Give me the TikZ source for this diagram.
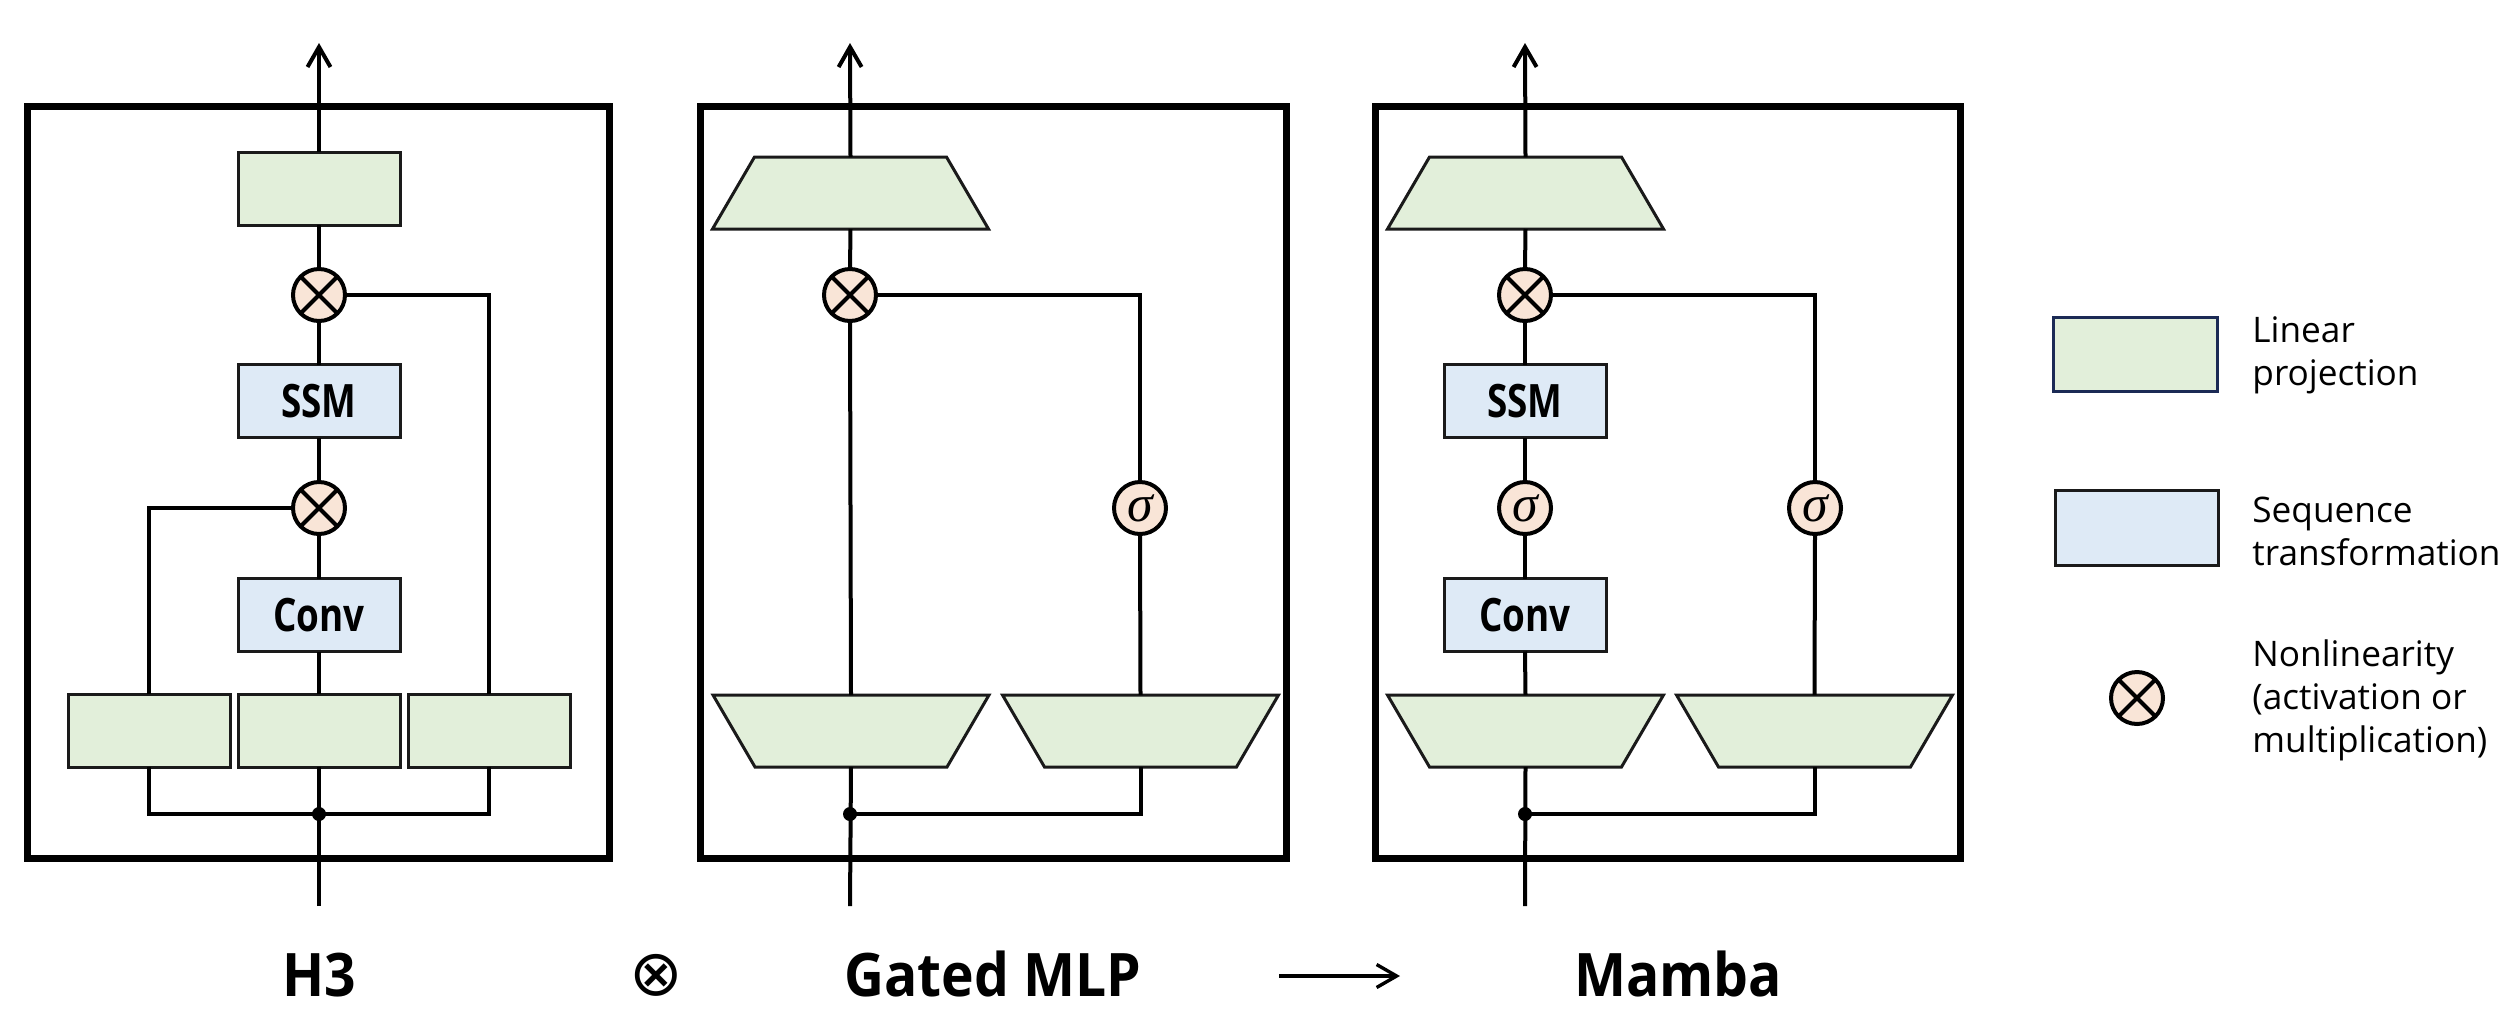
\documentclass[tikz,border=0pt]{standalone}
\usepackage{fontspec}
\setmainfont{Open Sans}
\newfontfamily\condfont{Open Sans}[FakeStretch=0.8]
\newfontfamily\titlefont{Open Sans}[FakeStretch=0.92]
\newfontfamily\symfont{DejaVu Sans}
\newfontfamily\sigfont{Liberation Serif}
\usetikzlibrary{arrows.meta}
\definecolor{lingreen}{HTML}{E2EFDA}
\definecolor{seqblue}{HTML}{DEEAF6}
\definecolor{nlpeach}{HTML}{F9E5D7}
\definecolor{navy}{HTML}{1B2A55}
\definecolor{boxline}{HTML}{1A1A1A}
\tikzset{
 frame/.style={line width=3.5pt},
 conn/.style={line width=2pt},
 outarrow/.style={line width=2pt, -{Straight Barb[length=10pt,width=11.5pt,line width=2pt]}},
 linbox/.style={rectangle, draw=boxline, line width=1.5pt, fill=lingreen, minimum width=81pt, minimum height=36.5pt, inner sep=0pt, outer sep=0pt},
 seqbox/.style={linbox, fill=seqblue, font=\condfont\bfseries\fontsize{23}{27}\selectfont},
 trapbox/.style={rectangle, minimum width=138pt, minimum height=36pt, inner sep=0pt, outer sep=0pt},
 trapfill/.style={draw=boxline, line width=1.5pt, fill=lingreen, line join=miter},
 nlcirc/.style={circle, draw=black, line width=2pt, fill=nlpeach, minimum size=26pt, inner sep=0pt, outer sep=0pt, font=\sigfont\itshape\fontsize{26}{26}\selectfont},
 nlcross/.style={nlcirc, path picture={\draw[line width=2pt] (path picture bounding box.south west) -- (path picture bounding box.north east) (path picture bounding box.north west) -- (path picture bounding box.south east);}},
 dotnode/.style={circle, fill=black, minimum size=7pt, inner sep=0pt, outer sep=0pt},
 title/.style={font=\titlefont\bfseries\fontsize{30}{36}\selectfont, anchor=base, inner sep=0pt},
 legtext/.style={font=\fontsize{17.6}{21.5}\selectfont, align=left, anchor=base west, inner sep=0pt},
}
\newcommand\mytraptop[3]{\node[trapbox] (#1) at (#2,#3) {};
 \filldraw[trapfill] ([xshift=21pt]#1.north west) -- ([xshift=-21pt]#1.north east) -- (#1.south east) -- (#1.south west) -- cycle;}
\newcommand\mytrapbot[3]{\node[trapbox] (#1) at (#2,#3) {};
 \filldraw[trapfill] (#1.north west) -- (#1.north east) -- ([xshift=-21pt]#1.south east) -- ([xshift=21pt]#1.south west) -- cycle;}
\begin{document}
\begin{tikzpicture}[x=0.5pt,y=-0.5pt]
\fill[white] (0,0) rectangle (2518,1024);
\useasboundingbox (0,0) rectangle (2518,1024);

% ---------------- H3 ----------------
\draw[frame] (27.5,106) rectangle (609.5,858.5);
\node[linbox] (h3out) at (319,188.5) {};
\node[nlcross] (h3m1) at (319,295) {};
\node[seqbox] (h3ssm) at (319,401) {SSM};
\node[nlcross] (h3m2) at (319,508) {};
\node[seqbox] (h3conv) at (319,615) {Conv};
\node[linbox] (h3l) at (149,730.5) {};
\node[linbox] (h3c) at (319,730.5) {};
\node[linbox] (h3r) at (489,730.5) {};
\node[dotnode] (h3dot) at (319,814) {};
\coordinate (h3in) at (319,906);
\coordinate (h3top) at (319,43);
\draw[conn] (h3in) -- (h3c.south);
\draw[conn] (h3l.south) |- (h3dot.center) -| (h3r.south);
\draw[conn] (h3c.north) -- (h3conv.south);
\draw[conn] (h3conv.north) -- (h3m2.south);
\draw[conn] (h3m2.north) -- (h3ssm.south);
\draw[conn] (h3ssm.north) -- (h3m1.south);
\draw[conn] (h3m1.north) -- (h3out.south);
\draw[outarrow] (h3out.north) -- (h3top);
\draw[conn] (h3l.north) |- (h3m2.west);
\draw[conn] (h3m1.east) -| (h3r.north);

% ---------------- Gated MLP ----------------
\draw[frame] (700.5,106) rectangle (1286.5,858.5);
\mytraptop{gmout}{850.5}{193}
\node[nlcross] (gmm) at (850,295) {};
\node[nlcirc] (gms) at (1140,508) {σ};
\mytrapbot{gml}{851}{731}
\mytrapbot{gmr}{1140.5}{731}
\node[dotnode] (gmdot) at (850,814) {};
\coordinate (gmin) at (850,906);
\coordinate (gmtop) at (850,43);
\draw[conn] (gmin) -- (gml.south);
\draw[conn] (gmdot.center) -| (gmr.south);
\draw[conn] (gml.north) -- (gmm.south);
\draw[conn] (gmm.north) -- (gmout.south);
\draw[outarrow] (gmout.north) -- (gmtop);
\draw[conn] (gmm.east) -| (gms.north);
\draw[conn] (gms.south) -- (gmr.north);

% ---------------- Mamba ----------------
\draw[frame] (1375.5,106) rectangle (1960.5,858.5);
\mytraptop{mbout}{1525.5}{193}
\node[nlcross] (mbm) at (1525,295) {};
\node[seqbox] (mbssm) at (1525,401) {SSM};
\node[nlcirc] (mbs1) at (1525,508) {σ};
\node[seqbox] (mbconv) at (1525,615) {Conv};
\mytrapbot{mbl}{1525.5}{731}
\mytrapbot{mbr}{1814.5}{731}
\node[nlcirc] (mbs2) at (1815,508) {σ};
\node[dotnode] (mbdot) at (1525,814) {};
\coordinate (mbin) at (1525,906);
\coordinate (mbtop) at (1525,43);
\draw[conn] (mbin) -- (mbl.south);
\draw[conn] (mbdot.center) -| (mbr.south);
\draw[conn] (mbl.north) -- (mbconv.south);
\draw[conn] (mbconv.north) -- (mbs1.south);
\draw[conn] (mbs1.north) -- (mbssm.south);
\draw[conn] (mbssm.north) -- (mbm.south);
\draw[conn] (mbm.north) -- (mbout.south);
\draw[outarrow] (mbout.north) -- (mbtop);
\draw[conn] (mbm.east) -| (mbs2.north);
\draw[conn] (mbs2.south) -- (mbr.north);

% ---------------- Legend ----------------
\node[linbox, draw=navy, minimum width=82pt, minimum height=37pt] (lg1) at (2135,354) {};
\node[linbox, fill=seqblue, minimum width=81.5pt, minimum height=37.5pt] (lg2) at (2136.5,527.5) {};
\node[nlcross] (lg3) at (2137,698) {};
\node[legtext] (lt1) at (2252,385) {Linear\\projection};
\node[legtext] (lt2) at (2252,565) {Sequence\\transformation};
\node[legtext] (lt3) at (2252,752) {Nonlinearity\\(activation or\\multiplication)};

% ---------------- Titles ----------------
\node[title] (t1) at (319,996) {H3};
\node[title] (t2) at (993,996) {Gated MLP};
\node[title] (t3) at (1678,996) {Mamba};
\node[font=\symfont\fontsize{32}{32}\selectfont, inner sep=0pt] (op1) at (656,975) {⊗};
\coordinate (ar1) at (1279,976);
\coordinate (ar2) at (1400,976);
\draw[line width=1.7pt, -{Straight Barb[length=10pt,width=11.5pt,line width=1.7pt]}] (ar1) -- (ar2);
\end{tikzpicture}
\end{document}
